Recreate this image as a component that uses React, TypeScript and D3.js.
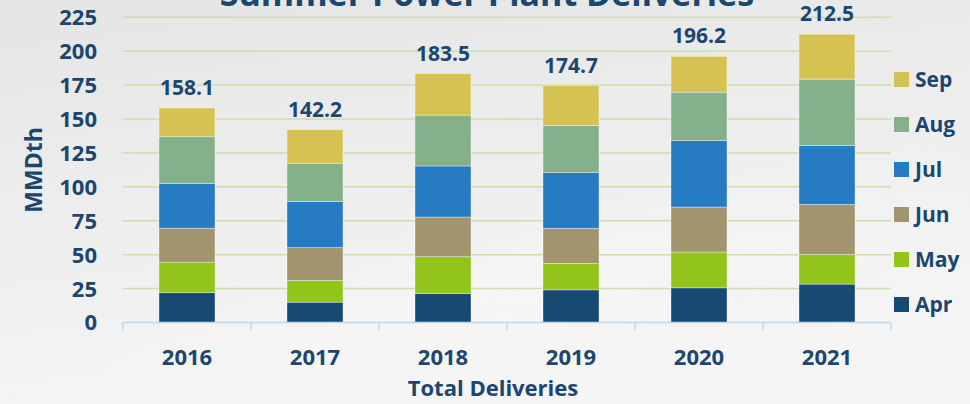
import React from "react";
import * as d3 from "d3";

const years = ["2016", "2017", "2018", "2019", "2020", "2021"];
const months = ["Apr", "May", "Jun", "Jul", "Aug", "Sep"];
const apr = [22, 15, 21.3, 24.1, 25.6, 28.3];
const may = [22.5, 16, 27.2, 19.5, 26.3, 21.9];
const jun = [25, 24.2, 29.2, 25.8, 33.2, 36.9];
const jul = [33, 34, 37.7, 41.1, 49, 43.3];
const aug = [34.5, 28.2, 37.5, 34.7, 35.7, 49];
const sep = [21.1, 24.8, 30.6, 29.5, 26.4, 33.1];
const totals = ["158.1", "142.2", "183.5", "174.7", "196.2", "212.5"];
const yTicks = [0, 25, 50, 75, 100, 125, 150, 175, 200, 225];
const colors = ["#174a72", "#92c41a", "#a39470", "#277bc2", "#84b08c", "#d6c153"];
const title = "Summer Power Plant Deliveries";

const W = 970;
const H = 404;
const navy = "#1a4670";
const FONT = "'Open Sans', 'DejaVu Sans', sans-serif";

export default function App() {
  const series = [apr, may, jun, jul, aug, sep];
  const rows = years.map((yr, i) => {
    const r: any = { year: yr };
    months.forEach((m, k) => (r[m] = series[k][i]));
    return r;
  });
  const stack = d3.stack<any>().keys(months)(rows);

  const x = d3
    .scaleBand<string>()
    .domain(years)
    .range([123, 891])
    .paddingInner(0.5625)
    .paddingOuter(0.28125);
  const y = d3.scaleLinear().domain([0, 225]).range([322.5, 17.3]);
  const step = x.step();
  const boundaries = d3.range(years.length + 1).map((i) => 123 + i * step);

  return (
    <svg
      width={W}
      height={H}
      style={{ position: "absolute", left: 0, top: 0 }}
      xmlns="http://www.w3.org/2000/svg"
    >
      <defs>
        <linearGradient id="bg" x1="0" y1="0" x2="0.3" y2="1">
          <stop offset="0" stopColor="#e5e5e5" />
          <stop offset="0.55" stopColor="#eeeeee" />
          <stop offset="1" stopColor="#f5f5f5" />
        </linearGradient>
        <linearGradient id="swoosh" x1="0" y1="1" x2="1" y2="0">
          <stop offset="0" stopColor="#ffffff" stopOpacity="0" />
          <stop offset="0.45" stopColor="#ffffff" stopOpacity="0.3" />
          <stop offset="1" stopColor="#ffffff" stopOpacity="0" />
        </linearGradient>
        <filter id="blur" x="-10%" y="-10%" width="120%" height="120%">
          <feGaussianBlur stdDeviation="18" />
        </filter>
      </defs>
      <rect x={0} y={0} width={W} height={H} fill="url(#bg)" />
      <path
        d={`M0,${H} C250,300 600,230 ${W},120 L${W},220 C650,320 300,370 120,${H} Z`}
        fill="url(#swoosh)"
        filter="url(#blur)"
      />

      {/* title (clipped at top, as in the source) */}
      <text
        x={487}
        y={6}
        textAnchor="middle"
        fontFamily={FONT}
        fontWeight={700}
        fontSize={34}
        fill={navy}
      >
        {title}
      </text>

      {/* gridlines */}
      {yTicks
        .filter((t) => t > 0)
        .map((t) => (
          <line
            key={t}
            x1={123}
            x2={891}
            y1={y(t)}
            y2={y(t)}
            stroke="#cadfae"
            strokeWidth={1.5}
          />
        ))}

      {/* y tick labels */}
      {yTicks.map((t) => (
        <text
          key={t}
          x={97}
          y={y(t)}
          dy="0.36em"
          textAnchor="end"
          fontFamily={FONT}
          fontWeight={700}
          fontSize={22}
          fill={navy}
        >
          {t}
        </text>
      ))}

      {/* y axis title */}
      <text
        transform={`translate(42,${(y(0) + y(225)) / 2}) rotate(-90)`}
        textAnchor="middle"
        fontFamily={FONT}
        fontWeight={700}
        fontSize={23}
        fill={navy}
      >
        MMDth
      </text>

      {/* bars */}
      {stack.map((s, k) => (
        <g key={months[k]} fill={colors[k]}>
          {s.map((d, i) => (
            <rect
              key={i}
              x={x(years[i])}
              y={y(d[1])}
              width={x.bandwidth()}
              height={y(d[0]) - y(d[1])}
              stroke="rgba(255,255,255,0.45)"
              strokeWidth={0.8}
            />
          ))}
        </g>
      ))}

      {/* totals */}
      {years.map((yr, i) => {
        const top = stack[stack.length - 1][i][1];
        return (
          <text
            key={yr}
            x={(x(yr) as number) + x.bandwidth() / 2}
            y={y(top) - 13}
            textAnchor="middle"
            fontFamily={FONT}
            fontWeight={700}
            fontSize={21}
            fill={navy}
          >
            {totals[i]}
          </text>
        );
      })}

      {/* x axis */}
      <line x1={123} x2={891} y1={y(0)} y2={y(0)} stroke="#bcd8ee" strokeWidth={1.5} />
      {boundaries.map((b, i) => (
        <line key={i} x1={b} x2={b} y1={y(0)} y2={y(0) + 8} stroke="#bcd8ee" strokeWidth={1.5} />
      ))}
      {years.map((yr) => (
        <text
          key={yr}
          x={(x(yr) as number) + x.bandwidth() / 2}
          y={365}
          textAnchor="middle"
          fontFamily={FONT}
          fontWeight={700}
          fontSize={22}
          fill={navy}
        >
          {yr}
        </text>
      ))}
      <text
        x={493}
        y={396}
        textAnchor="middle"
        fontFamily={FONT}
        fontWeight={700}
        fontSize={22}
        fill={navy}
      >
        Total Deliveries
      </text>

      {/* legend */}
      {months
        .slice()
        .reverse()
        .map((m, i) => {
          const k = months.indexOf(m);
          const cy = 79.5 + i * 45;
          return (
            <g key={m}>
              <rect x={894} y={cy - 7.5} width={15} height={15} fill={colors[k]} />
              <text
                x={915}
                y={cy}
                dy="0.36em"
                fontFamily={FONT}
                fontWeight={700}
                fontSize={21}
                fill={navy}
              >
                {m}
              </text>
            </g>
          );
        })}
    </svg>
  );
}
